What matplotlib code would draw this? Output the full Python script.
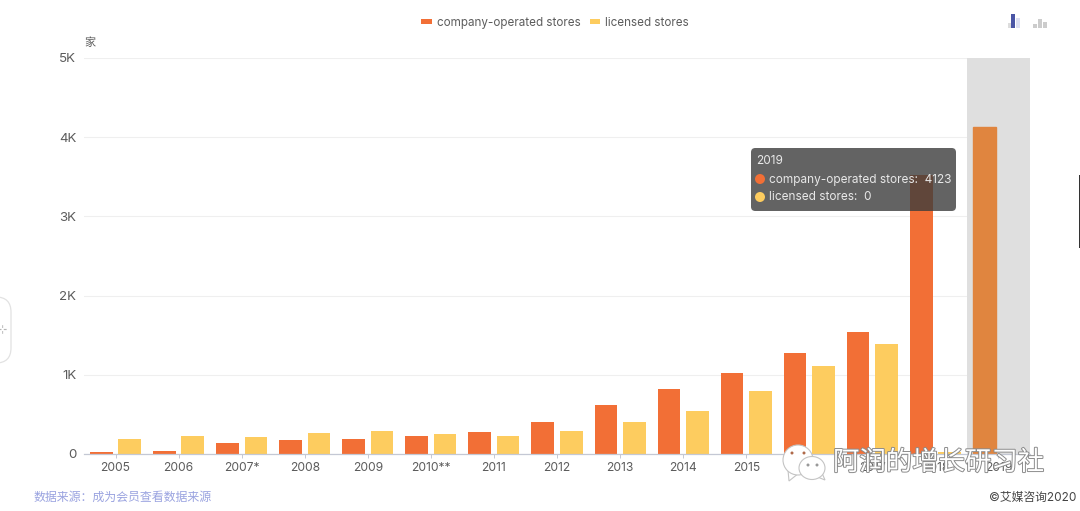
# -*- coding: utf-8 -*-
"""Store openings per year, grouped bars with the hover tooltip on 2019."""
import matplotlib
matplotlib.use('Agg')
from matplotlib import pyplot as plt
from matplotlib import patheffects
from matplotlib.patches import FancyBboxPatch, Ellipse, Polygon, Rectangle
import numpy as np

plt.rcParams['font.family'] = ['Inter', 'Noto Sans CJK SC', 'DejaVu Sans']

W, H = 1080, 511

years = ['2005', '2006', '2007*', '2008', '2009', '2010**', '2011', '2012',
         '2013', '2014', '2015', '2016', '2017', '2018', '2019']
company_stores = [30, 40, 145, 180, 195, 225, 280, 410, 620, 825, 1025, 1275,
                  1540, 3520, 4123]
licensed_stores = [190, 230, 215, 270, 285, 250, 225, 295, 405, 545, 790, 1115,
                   1395, 30, 0]
y_ticks = [0, 1000, 2000, 3000, 4000, 5000]
y_labels = ['0', '1K', '2K', '3K', '4K', '5K']

ORANGE = '#f26f36'
YELLOW = '#fdcc5f'
TEXT = '#5c5c5c'


def fx(x):
    return x / W


def fy(y):
    return 1 - y / H


fig = plt.figure(figsize=(W / 100, H / 100), dpi=100)
ax = fig.add_axes([fx(84), fy(454), (1030 - 84) / W, (454 - 58) / H])

pos = np.arange(len(years))
width = 0.36
offset = 0.225

# highlighted band of the hovered category
ax.axvspan(pos[-1] - 0.5, pos[-1] + 0.5, color='#dfdfdf', lw=0, zorder=1)

bars = ax.bar(pos - offset, company_stores, width, color=ORANGE, zorder=2,
              label='company-operated stores')
bars[-1].set_color('#e0853f')
ax.bar(pos + offset, licensed_stores, width, color=YELLOW, zorder=2,
       label='licensed stores')

ax.set_xlim(-0.5, len(years) - 0.5)
ax.set_ylim(0, 5000)
ax.set_xticks(pos)
ax.set_xticklabels(years)
ax.set_yticks(y_ticks)
ax.set_yticklabels(y_labels)
ax.grid(axis='y', color='#efefef', lw=0.8, zorder=0)
ax.set_axisbelow(True)
ax.tick_params(axis='x', length=3, width=0.7, color='#c4c8d4', pad=3,
               labelsize=8.7, labelcolor=TEXT)
ax.tick_params(axis='y', length=0, pad=5.5, labelsize=9.6, labelcolor=TEXT)
for side in ['top', 'right', 'left']:
    ax.spines[side].set_visible(False)
ax.spines['bottom'].set_color('#c4c8d4')
ax.spines['bottom'].set_linewidth(0.9)

leg = ax.legend(loc='center', bbox_to_anchor=(fx(555), fy(23)),
                bbox_transform=fig.transFigure, ncol=2, frameon=False,
                fontsize=8.4, labelcolor=TEXT, handlelength=0.9, handleheight=0.3,
                handletextpad=0.4, columnspacing=0.8, borderpad=0)

fig.text(fx(84), fy(43), '家', fontsize=8, color=TEXT, va='center')

# tooltip
fig.add_artist(FancyBboxPatch((fx(751), fy(211)), 205 / W, 63 / H,
                              boxstyle='round,pad=0,rounding_size=0.004',
                              mutation_aspect=W / H, transform=fig.transFigure,
                              fc='#3c3c3c', ec='none', alpha=0.8, zorder=5))
tip_color = '#e8e8e8'
fig.text(fx(756), fy(161.5), '2019', fontsize=8.5, color=tip_color, va='center', zorder=6)
fig.text(fx(769), fy(180), 'company-operated stores:  4123', fontsize=8.5,
         color=tip_color, va='center', zorder=6)
fig.text(fx(769), fy(197.5), 'licensed stores:  0', fontsize=8.5,
         color=tip_color, va='center', zorder=6)
fig.add_artist(Ellipse((fx(760), fy(179)), 10 / W, 10 / H, fc=ORANGE, ec='none', zorder=6))
fig.add_artist(Ellipse((fx(760), fy(197)), 10 / W, 10 / H, fc=YELLOW, ec='none', zorder=6))

# source and copyright
fig.text(fx(34), fy(498), '数据来源：成为会员查看数据来源', fontsize=8.6,
         color='#9aa3e0', va='center')
fig.text(fx(1076), fy(498), '©艾媒咨询2020', fontsize=8.5, color='#444444',
         va='center', ha='right')

# chart type icons, top right
for x, h, c in [(1008, 5, '#dddddd'), (1011, 14, '#4a55a5'), (1016, 10, '#dcdff2'),
                (1033, 4, '#cccccc'), (1038, 9, '#cccccc'), (1043, 6, '#cccccc')]:
    fig.add_artist(Rectangle((fx(x), fy(28)), 4 / W, h / H, fc=c, ec='none'))

# side handle and the dark edge at the right
fig.add_artist(FancyBboxPatch((fx(-20), fy(363)), 31 / W, 66 / H,
                              boxstyle='round,pad=0,rounding_size=0.014',
                              mutation_aspect=W / H, transform=fig.transFigure,
                              fc='white', ec='#e2e2e2', lw=0.9))
fig.text(fx(2), fy(330), '⊹', fontsize=8, color='#b5b5b5', ha='center', va='center',
         family='DejaVu Sans')
fig.add_artist(Rectangle((fx(1078.5), fy(248)), 1.5 / W, 73 / H, fc='#333333', ec='none'))

# watermark
halo = [patheffects.withStroke(linewidth=1.4, foreground='#8c8c8c')]
fig.text(fx(833), fy(463), '阿润的增长研习社', fontsize=19, color='white',
         va='center', zorder=8, path_effects=halo)
for cx, cy, rw, rh, tail in [
        (798, 460, 30, 30, [(788, 470), (789, 481), (799, 473)]),
        (812, 468, 26, 23, [(815, 476), (825, 480), (822, 473)])]:
    fig.add_artist(Polygon([(fx(a), fy(b)) for a, b in tail], closed=True, fc='white',
                           ec='#c4c4c4', lw=0.8, zorder=8))
    fig.add_artist(Ellipse((fx(cx), fy(cy)), rw / W, rh / H, fc='white', ec='#c4c4c4',
                           lw=0.8, zorder=8))
for cx, cy, c in [(792, 453, '#b06a4a'), (804, 453, '#b06a4a'),
                  (808, 465, '#999999'), (817, 465, '#999999')]:
    fig.add_artist(Ellipse((fx(cx), fy(cy)), 3 / W, 3 / H, fc=c, ec='none', zorder=9))

fig.savefig('out.png', dpi=100)
